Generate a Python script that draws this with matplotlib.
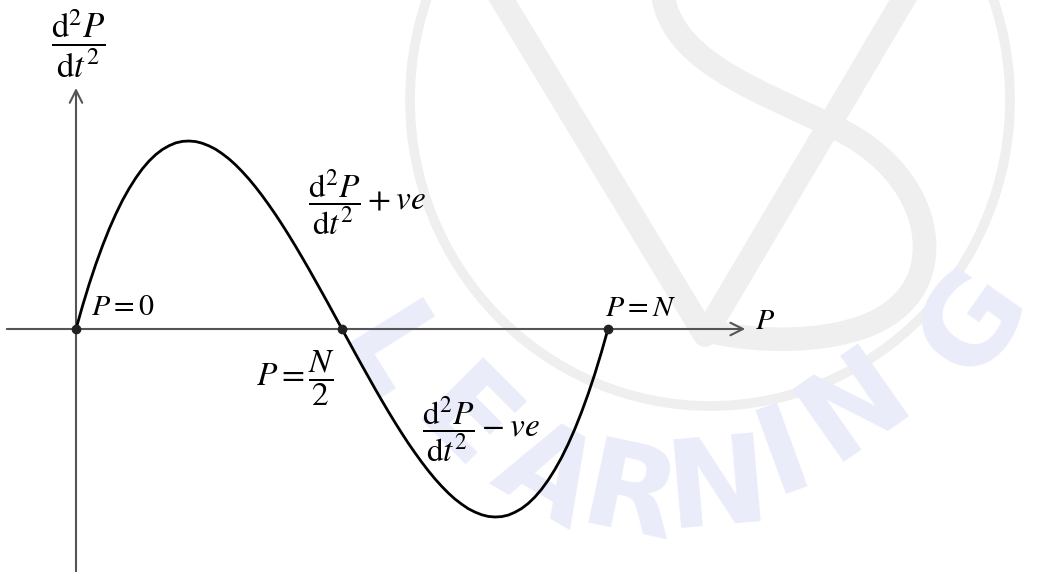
import numpy as np
import matplotlib.pyplot as plt
from matplotlib.patches import Ellipse, PathPatch
from matplotlib.path import Path
from matplotlib.transforms import Affine2D

plt.rcParams['mathtext.fontset'] = 'stix'
plt.rcParams['font.family'] = 'Liberation Serif'

# --- data: P as a fraction of N, d2P/dt2 scaled so that the peak is 1 ---
p_vals = np.linspace(0, 1, 81)
d2p_rising = [0.0, 0.125, 0.241, 0.347, 0.444, 0.533, 0.613, 0.685, 0.748, 0.804,
              0.853, 0.894, 0.928, 0.955, 0.975, 0.990, 0.998, 1.0, 0.997, 0.988,
              0.974, 0.956, 0.932, 0.905, 0.873, 0.837, 0.798, 0.755, 0.709, 0.660,
              0.609, 0.555, 0.499, 0.441, 0.381, 0.320, 0.257, 0.194, 0.130, 0.065]
d2p_falling = [0.0, -0.065, -0.130, -0.194, -0.257, -0.320, -0.381, -0.441, -0.499, -0.555,
               -0.609, -0.660, -0.709, -0.755, -0.798, -0.837, -0.873, -0.905, -0.932, -0.956,
               -0.974, -0.988, -0.997, -1.0, -0.998, -0.990, -0.975, -0.955, -0.928, -0.894,
               -0.853, -0.804, -0.748, -0.685, -0.613, -0.533, -0.444, -0.347, -0.241, -0.125,
               0.0]
d2p_vals = d2p_rising + d2p_falling
key_points = [0.0, 0.5, 1.0]

W, H = 1053, 572
fig = plt.figure(figsize=(W / 100, H / 100), dpi=100)
ax = fig.add_axes([0, 0, 1, 1])
ax.set_xlim(-76 / 532, 977 / 532)
ax.set_ylim(-243 / 188, 329 / 188)
ax.axis('off')

# --- watermark (pixel coords, origin top-left) ---
px = Affine2D().scale(1 / W, -1 / H).translate(0, 1) + fig.transFigure
wm_grey = '#efefef'
ax.add_patch(Ellipse((710, 100), 600, 612, fill=False, ec=wm_grey, lw=7,
                     transform=px, zorder=0))
ax.plot([490, 705, 915], [-20, 335, -20], color=wm_grey, lw=17, transform=px,
        solid_joinstyle='round', zorder=0)
s_path = Path([(662, -20), (660, 60), (760, 90), (840, 130),
               (930, 175), (945, 265), (900, 305),
               (860, 345), (760, 345), (705, 330)],
              [Path.MOVETO] + [Path.CURVE4] * 9)
ax.add_patch(PathPatch(s_path, fill=False, ec=wm_grey, lw=17, transform=px,
                       capstyle='round', zorder=0))
letters = ['L', 'E', 'A', 'R', 'N', 'I', 'N', 'G']
lx = [385, 462, 545, 630, 718, 785, 855, 975]
ly = [358, 425, 478, 500, 490, 455, 405, 322]
lrot = [-58, -45, -30, -12, 5, 20, 35, 55]
for ch, x, y, r in zip(letters, lx, ly, lrot):
    ax.text(x, y, ch, fontsize=88, fontweight='bold', family='DejaVu Sans',
            color='#eaecfa', rotation=r, ha='center', va='center', transform=px,
            zorder=0.5)

# --- axes with open arrow heads ---
axis_col = '#555555'
ax.annotate('', xy=(1.258, 0), xytext=(-0.13, 0),
            arrowprops=dict(arrowstyle='->,head_length=0.9,head_width=0.45',
                            color=axis_col, lw=1.5, shrinkA=0, shrinkB=0))
ax.annotate('', xy=(0, 1.282), xytext=(0, -1.3),
            arrowprops=dict(arrowstyle='->,head_length=0.9,head_width=0.45',
                            color=axis_col, lw=1.5, shrinkA=0, shrinkB=0))

# --- curve ---
ax.plot(p_vals, d2p_vals, color='black', lw=2, zorder=3)
ax.plot(key_points, [0] * len(key_points), 'o', color='#222222', ms=6, zorder=4)

# --- labels ---
fs = 21.5
ffs = 25
ax.text(0.005, 1.516, r'$\dfrac{\mathrm{d}^2P}{\mathrm{d}t^2}$', fontsize=ffs,
        ha='center', va='center')
ax.text(1.276, 0.037, r'$P$', fontsize=fs, ha='left', va='center')
ax.text(0.028, 0.11, r'$P = 0$', fontsize=fs, ha='left', va='center')
ax.text(0.994, 0.106, r'$P = N$', fontsize=fs, ha='left', va='center')
ax.text(0.487, -0.26, r'$P = \dfrac{N}{2}$', fontsize=ffs - 1, ha='right', va='center')
ax.text(0.436, 0.67, r'$\dfrac{\mathrm{d}^2P}{\mathrm{d}t^2} + ve$', fontsize=ffs - 1,
        ha='left', va='center')
ax.text(0.650, -0.537, r'$\dfrac{\mathrm{d}^2P}{\mathrm{d}t^2} - ve$', fontsize=ffs - 1,
        ha='left', va='center')

fig.savefig('out.png', dpi=100)
